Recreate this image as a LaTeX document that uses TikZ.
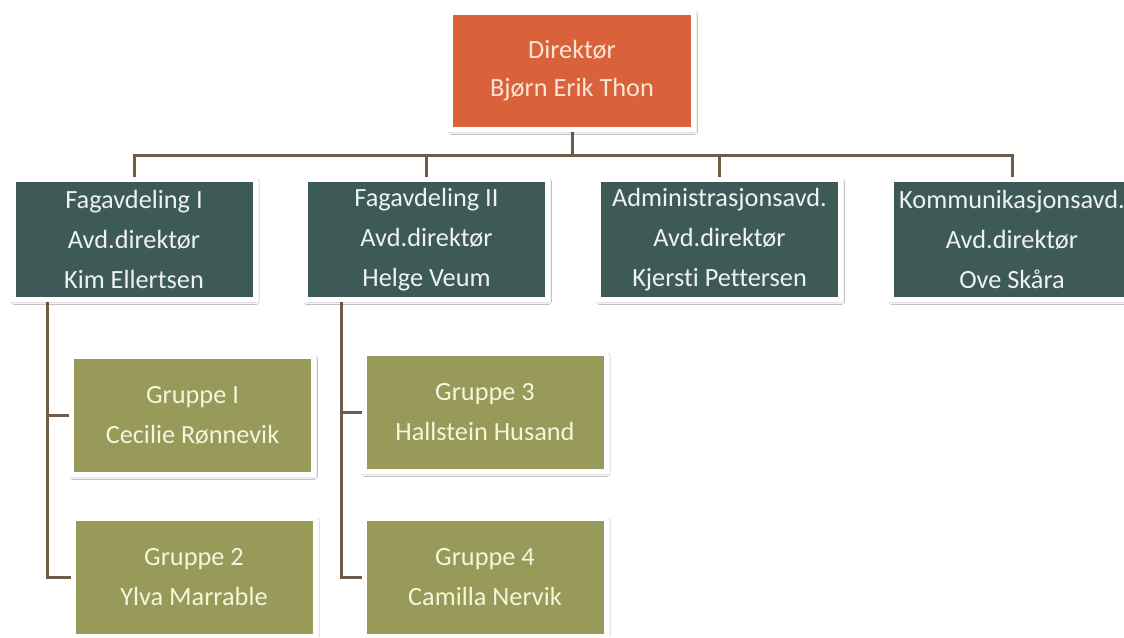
\documentclass[tikz,border=0pt]{standalone}
\usepackage{fontspec}
\setmainfont{Carlito}[Ligatures=NoCommon]
\usetikzlibrary{shadows.blur,backgrounds}
\definecolor{dirc}{HTML}{DA623A}
\definecolor{dirtext}{HTML}{FBE6D6}
\definecolor{deptc}{HTML}{3D5A57}
\definecolor{depttext}{HTML}{EEF3F1}
\definecolor{grpc}{HTML}{979A58}
\definecolor{grptext}{HTML}{F7F5DC}
\definecolor{connc}{HTML}{6E5B49}
\begin{document}
\begin{tikzpicture}[x=1pt,y=-1pt,
  box/.style={rectangle, draw=white, line width=5pt, inner sep=0pt, align=center,
    blur shadow={shadow xshift=1pt,shadow yshift=-2pt,shadow blur radius=3pt,shadow opacity=35}},
  dirbox/.style={box, fill=dirc, text=dirtext, minimum width=243pt, minimum height=117pt,
    font=\fontsize{26.3}{38}\selectfont},
  deptbox/.style={box, fill=deptc, text=depttext, minimum width=242pt, minimum height=120pt,
    font=\fontsize{26.3}{40}\selectfont},
  grpbox/.style={box, fill=grpc, text=grptext, minimum width=242pt, minimum height=118pt,
    font=\fontsize{26.3}{40}\selectfont},
  conn/.style={draw=connc, line width=3pt}
]
\useasboundingbox (0,0) rectangle (1124,637);

\node[dirbox] (dir) at (572,71) {Direktør\\Bjørn Erik Thon};

\node[deptbox] (f1) at (134,239.5) {Fagavdeling I\\Avd.direktør\\Kim Ellertsen};
\node[deptbox] (f2) at (426.5,239.5) {Fagavdeling II\\Avd.direktør\\Helge Veum};
\node[deptbox] (adm) at (719.5,239.5) {Administrasjonsavd.\\Avd.direktør\\Kjersti Pettersen};
\node[deptbox] (kom) at (1012,239.5) {Kommunikasjonsavd.\\Avd.direktør\\Ove Skåra};

\node[grpbox] (g1) at (192.5,415.5) {Gruppe I\\Cecilie Rønnevik};
\node[grpbox] (g2) at (194,577.5) {Gruppe 2\\Ylva Marrable};
\node[grpbox] (g3) at (485,412.5) {Gruppe 3\\Hallstein Husand};
\node[grpbox] (g4) at (485,577) {Gruppe 4\\Camilla Nervik};

\coordinate (bus) at (572,155);
\coordinate (t1) at (47,297);
\coordinate (t2) at (341,297);

\begin{pgfonlayer}{background}
  \fill[white] (0,0) rectangle (1124,637);
  \draw[conn] (dir.south) -- (bus);
  \draw[conn] (bus) -| (f1.north);
  \draw[conn] (bus) -| (f2.north);
  \draw[conn] (bus) -| (adm.north);
  \draw[conn] (bus) -| (kom.north);
  \draw[conn] (t1) |- (g2.west);
  \draw[conn] (t1 |- g1.west) -- (g1.west);
  \draw[conn] (t2) |- (g4.west);
  \draw[conn] (t2 |- g3.west) -- (g3.west);
\end{pgfonlayer}
\end{tikzpicture}
\end{document}
